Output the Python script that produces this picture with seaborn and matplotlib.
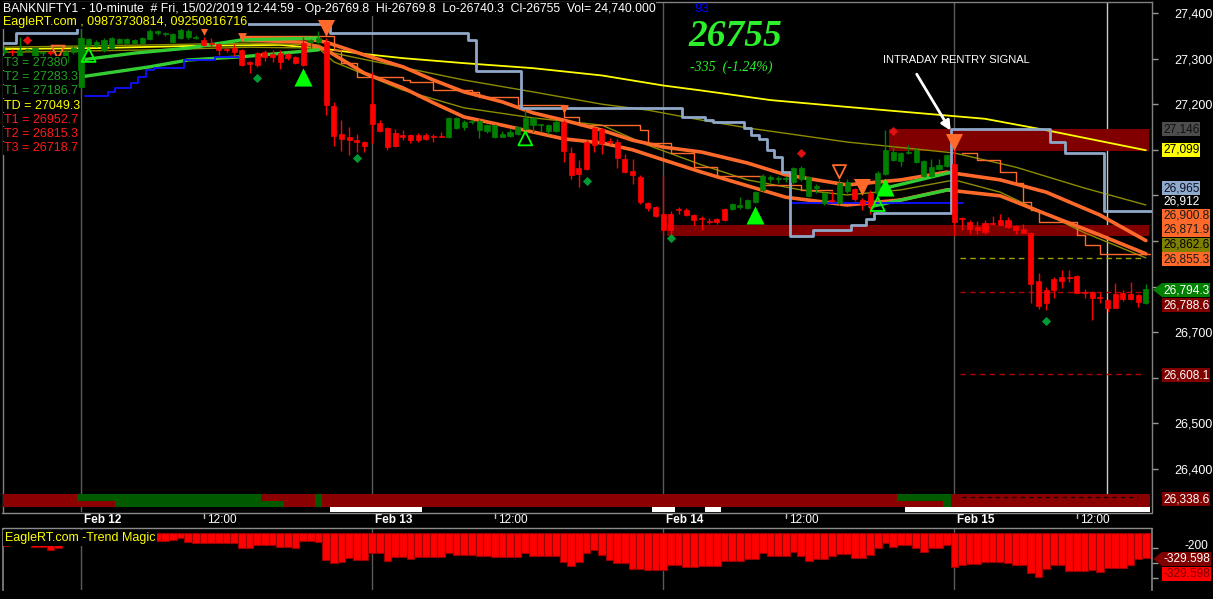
import numpy as np
import pandas as pd
import matplotlib
matplotlib.use("Agg")
import matplotlib.pyplot as plt
import seaborn as sns
from matplotlib.lines import Line2D
from matplotlib.patches import Polygon

# ---------------- data ----------------
opens = [27315,27316,27303,27318,27303,27312,27314,27305,27292,27314,
         27238,27330,27328,27319,27323,27334,27334,27335,27334,27343,
         27356,27353,27337,27345,27347,27345,27341,27335,27332,27322,
         27323,27319,27292,27312,27314,27309,27312,27310,27303,27334,
         27337,27336,27336,27196,27135,27127,27122,27117,27200,27159,
         27148,27137,27133,27133,27133,27133,27130,27129,27128,27148,
         27151,27160,27143,27142,27128,27128,27131,27135,27145,27155,
         27154,27142,27142,27162,27093,27060,27118,27148,27146,27120,
         27118,27080,27054,27041,26984,26975,26960,26960,26970,26968,
         26957,26950,26944,26948,26970,26970,26974,26972,26986,27011,
         27035,27036,27036,27030,27035,26999,27017,26983,26990,26983,
         27010,27014,26990,27005,27005,27048,27078,27076,27093,27074,
         27043,27043,27058,27065,27069,26951,26941,26930,26940,26938,
         26945,26946,26932,26926,26918,26812,26792,26817,26822,26820,
         26823,26788,26788,26777,26770,26784,26786,26784,26781,26764]
highs = [27325,27320,27347,27324,27326,27315,27318,27310,27318,27328,
         27363,27346,27340,27346,27347,27346,27345,27343,27348,27365,
         27363,27359,27356,27366,27364,27352,27348,27345,27335,27326,
         27332,27322,27294,27314,27318,27318,27318,27313,27306,27347,
         27342,27360,27345,27205,27165,27150,27135,27120,27271,27165,
         27150,27145,27143,27135,27136,27136,27134,27139,27172,27173,
         27166,27165,27168,27157,27157,27142,27145,27152,27187,27172,
         27157,27157,27165,27165,27107,27078,27122,27151,27148,27126,
         27124,27090,27080,27044,26986,26977,27045,26965,26975,26972,
         26960,26955,26950,26950,26972,26984,26997,26993,27010,27047,
         27045,27043,27043,27063,27064,27043,27025,27008,27010,27035,
         27037,27017,26995,27012,27054,27143,27110,27095,27110,27103,
         27078,27080,27080,27090,27107,26953,26945,26943,26945,26955,
         26960,26953,26935,26937,26920,26830,26800,26821,26836,26836,
         26825,26795,26790,26788,26772,26808,26792,26810,26783,26805]
lows = [27310,27305,27300,27314,27300,27305,27308,27298,27285,27310,
        27236,27327,27325,27314,27320,27331,27330,27332,27331,27340,
        27352,27350,27334,27342,27344,27342,27327,27325,27307,27314,
        27305,27284,27268,27282,27295,27293,27278,27298,27288,27284,
        27323,27334,27176,27108,27097,27089,27095,27095,27114,27140,
        27100,27106,27122,27115,27116,27122,27118,27127,27126,27146,
        27144,27157,27125,27137,27126,27127,27129,27133,27143,27140,
        27140,27135,27140,27074,27035,27018,27055,27095,27090,27112,
        27060,27050,27025,26982,26965,26952,26911,26905,26960,26955,
        26935,26925,26937,26938,26944,26968,26970,26970,26983,27008,
        27030,27027,27030,27024,27032,26996,27005,26980,26985,26980,
        27005,26988,26968,26960,27002,27045,27075,27065,27090,27072,
        27040,27040,27055,27062,26913,26925,26916,26915,26915,26936,
        26934,26928,26915,26917,26763,26750,26748,26775,26797,26810,
        26785,26775,26727,26764,26744,26752,26768,26770,26755,26762]
closes = [27318,27314,27319,27320,27323,27313,27312,27302,27314,27323,
          27345,27343,27336,27341,27345,27343,27343,27341,27345,27360,
          27360,27357,27354,27363,27361,27348,27330,27333,27319,27318,
          27314,27286,27289,27286,27303,27303,27292,27301,27290,27286,
          27340,27345,27198,27130,27124,27122,27116,27108,27157,27142,
          27106,27108,27129,27122,27122,27124,27127,27128,27170,27170,
          27162,27162,27164,27154,27154,27134,27140,27150,27169,27169,
          27155,27155,27162,27098,27045,27048,27058,27110,27115,27117,
          27083,27052,27044,26986,26973,26955,26925,26925,26968,26957,
          26946,26948,26942,26941,26945,26981,26978,26990,27008,27043,
          27041,27038,27039,27060,27060,27040,27020,27005,26988,27028,
          27030,26992,26979,26977,27050,27100,27096,27093,27095,27100,
          27075,27062,27066,27088,26942,26948,26926,26924,26920,26937,
          26936,26930,26924,26918,26806,26757,26765,26793,26813,26818,
          26787,26786,26775,26774,26754,26754,26773,26772,26766,26794.3]

trend_magic = [-170,-160,-140,-140,-185,-185,-225,-199,-120,-110,
               -60,-80,-90,-100,-100,-110,-110,-120,-110,-100,
               -106,-106,-93,-66,-119,-132,-132,-132,-132,-132,
               -132,-199,-199,-159,-159,-159,-185,-185,-199,-106,
               -106,-119,-358,-397,-384,-331,-358,-358,-265,-265,
               -371,-318,-318,-344,-318,-318,-318,-318,-265,-291,
               -291,-291,-305,-305,-318,-318,-318,-318,-265,-305,
               -305,-305,-305,-384,-437,-384,-265,-225,-291,-358,
               -397,-397,-477,-477,-490,-490,-490,-424,-424,-450,
               -450,-437,-437,-437,-371,-371,-371,-344,-344,-265,
               -305,-305,-305,-252,-305,-371,-344,-344,-305,-278,
               -278,-331,-331,-291,-199,-132,-185,-159,-159,-199,
               -252,-199,-199,-159,-450,-424,-411,-411,-384,-384,
               -384,-397,-424,-424,-530,-583,-477,-424,-424,-503,
               -503,-503,-490,-517,-464,-464,-464,-424,-344,-329.598]

# indicator lines (bar index, price)
yellow_idx = [0,12,25,36,42,47,52,60,69,78,86,91,100,110,119,128,136,149]
yellow_val = [27321,27323,27328,27330,27321,27310,27301,27290,27279,27263,27241,27230,27209,27194,27181,27168,27143,27099]
olive1_idx = [0,19,32,41,43,60,69,78,84,91,97,110,124,132,141,149]
olive1_val = [27325,27330,27334,27330,27312,27253,27227,27200,27187,27165,27148,27117,27093,27062,27016,26979]
olive2_idx = [0,19,32,41,43,52,60,69,78,84,91,97,104,110,117,124,130,134,141,149]
olive2_val = [27314,27319,27325,27323,27293,27231,27192,27170,27154,27110,27067,27034,27012,27001,27012,27034,27007,26975,26918,26863]
ma_idx = [31,39,42,47,52,56,60,65,69,73,78,82,86,91,97,102,110,117,123,130,136,143,149]
ma_fast = [27345,27345,27336,27308,27282,27253,27227,27205,27181,27165,27143,27121,27106,27095,27071,27045,27023,27034,27051,27034,27007,26957,26901]
ma_slow = [27341,27336,27319,27268,27236,27203,27172,27154,27139,27124,27115,27100,27078,27051,27021,26996,26979,26990,27012,26999,26959,26913,26872]
trail1_idx = [31,43,44,46,52,53,56,61,62,67,73,75,83,84,87,90,93,99,104,108]
trail1_val = [27350,27319,27290,27260,27253,27249,27231,27227,27216,27198,27172,27154,27143,27115,27093,27062,27043,27023,27012,27012]
trail2_idx = [125,127,130,132,133,134,135,140,141,143,149.6]
trail2_val = [27092,27078,27052,27027,26986,26968,26942,26913,26891,26872,26872]
stop_idx = [-0.2,1.5,9.5,42.5,60.5,61.5,67.5,88.5,91.5,92.5,96.5,97.5,98.5,99.5,100.5,101.5,102.5,105.5,110.5,112.5,113.5,123.5,136.5,138.5,143.5,149.8]
stop_val = [27334,27356,27376,27357,27341,27273,27192,27173,27165,27162,27147,27132,27123,27100,27084,27052,26911,26924,26935,26948,26962,27145,27118,27092,26965,26965]
g1_up_idx = [10,17,24,31,41];     g1_up_val = [27297,27312,27323,27341,27345]
g1_lo_idx = [10,19,24,31,41];     g1_lo_val = [27260,27282,27297,27304,27319]
b1_idx = [10.5,13.5,14.5,16.5,17.5,18.5,19.5,23.5,27.5,31]
b1_val = [27218,27227,27236,27246,27260,27275,27279,27297,27304,27304]
g2_up_idx = [114,123.4];  g2_up_val = [27012,27050]
g2_lo_idx = [113,123.4];  g2_lo_val = [26975,27013]
b2_idx = [102.6,125.1];   b2_val = [26984,26984]

zone_start = [116, 87]
zone_top = [27146, 26935]
zone_bot = [27097, 26911]
levels = [26862.6, 26788.6, 26608.1]

# signal markers (bar index, price)
sell_big = ([42,112,124], [27367,27019,27116])
sell_hollow = ([7,109], [27314,27052])
sell_small = ([73,31,26], [27189,27347,27361])
buy_big = ([39,98,115], [27260,26957,27019])
buy_hollow = ([11,68,114], [27308,27125,26981])
dots = ([33,46,76,87,136], [27258,27083,27032,26907,26725])
diamonds = ([3,104,116], [27341,27092,27142])

# state strip (runs of bars)
top_runs = [(0,9,'r'),(10,33,'g'),(34,40,'r'),(41,41,'g'),(42,116,'r'),(117,123,'g'),(124,149,'r')]
bot_runs = [(0,14,'r'),(15,36,'g'),(37,40,'r'),(41,41,'g'),(42,122,'r'),(123,123,'g'),(124,149,'r')]
white_runs = [(43,54),(85,87),(92,93),(118,149)]

day_starts = [10, 48, 86, 124]
day_names = ["Feb 12", "Feb 13", "Feb 14", "Feb 15"]
noon_idx = [26, 64, 102, 140]

price_ticks = [26400, 26500, 26600, 26700, 26800, 26900, 27000, 27100, 27200, 27300, 27400]
label_vals = [27146, 27099, 26965, 26912, 26900.8, 26871.9, 26862.6, 26855.3, 26794.3, 26788.6, 26608.1, 26338.6]
legend_txt = ["T3 = 27380", "T2 = 27283.3", "T1 = 27186.7", "TD = 27049.3", "T1 = 26952.7", "T2 = 26815.3", "T3 = 26718.7"]

# ---------------- style ----------------
W, H = 1213, 599
sns.set_theme(style="dark", rc={"axes.facecolor": "black", "figure.facecolor": "black",
                                "savefig.facecolor": "black", "axes.edgecolor": "#808080",
                                "axes.grid": False})
plt.rcParams['font.family'] = ['Liberation Sans', 'DejaVu Sans']

fig = plt.figure(figsize=(W / 100, H / 100), dpi=100, facecolor='black')
def fx(px): return px / W
def fy(py): return 1 - py / H

ax = fig.add_axes([fx(3), fy(512), fx(1152) - fx(3), fy(2) - fy(512)])
axl = fig.add_axes([fx(3), fy(590), fx(1152) - fx(3), fy(529) - fy(590)])
XL = (-0.18, 149.8)
YL = (26305.7, 27424.1)

GREEN_C = '#008000'
RED_C = '#ff0000'
ORANGE = '#ff6a2a'

# bands and grid
for s, t, b in zip(zone_start, zone_top, zone_bot):
    ax.fill_between([s - 0.5, 149.4], [b, b], [t, t], color='#800000', lw=0, zorder=1)
for d in day_starts:
    ax.axvline(d, color='#5a5a5a', lw=1, zorder=0.5)
    axl.axvline(d, color='#5a5a5a', lw=1, zorder=0.5)
ax.axvline(143.9, color='#c8c8c8', lw=1, zorder=0.6)

def line(xs, ys, color, lw, z, ds='default'):
    sns.lineplot(x=xs, y=ys, ax=ax, color=color, lw=lw, zorder=z, estimator=None,
                 sort=False, drawstyle=ds, legend=False)

line(yellow_idx, yellow_val, '#ffff00', 1.3, 2)
line(olive1_idx, olive1_val, '#8c8c00', 1.0, 2)
line(olive2_idx, olive2_val, '#8c8c00', 1.0, 2)
line(trail1_idx, trail1_val, ORANGE, 1.0, 2, 'steps-post')
line(trail2_idx, trail2_val, ORANGE, 1.0, 2, 'steps-post')
line(ma_idx, ma_fast, ORANGE, 2.6, 3)
line(ma_idx, ma_slow, ORANGE, 2.6, 3)
line(stop_idx, stop_val, '#8fa8c8', 2.0, 3.5, 'steps-post')
line(g1_up_idx, g1_up_val, '#33cc33', 2.4, 3)
line(g1_lo_idx, g1_lo_val, '#33cc33', 2.4, 3)
line(b1_idx, b1_val, '#1010ff', 1.3, 3, 'steps-post')
line(g2_up_idx, g2_up_val, '#33cc33', 2.4, 3)
line(g2_lo_idx, g2_lo_val, '#33cc33', 2.4, 3)
line(b2_idx, b2_val, '#1010ff', 1.3, 3)

ax.hlines(levels[0], 124.7, 148.6, colors='#a0a000', linestyles=(0, (4, 3)), lw=1, zorder=2)
ax.hlines(levels[1:], 124.7, 148.6, colors='#b00000', linestyles=(0, (4, 3)), lw=1, zorder=2)

# candles
df = pd.DataFrame({'o': opens, 'h': highs, 'l': lows, 'c': closes})
df['i'] = np.arange(len(df))
col = np.where(df.c >= df.o, GREEN_C, RED_C)
ax.vlines(df.i, df.l, df.h, colors=col, lw=1, zorder=5)
lo = np.minimum(df.o, df.c)
hgt = np.maximum(np.abs(df.c - df.o), 2.2)
ax.bar(df.i, hgt, bottom=lo, width=0.66, color=col, edgecolor=col, lw=0.5, zorder=6)

# markers
ax.scatter(*sell_big, marker='v', s=150, color=ORANGE, zorder=8, lw=0)
ax.scatter(*sell_hollow, marker='v', s=90, facecolor='none', edgecolor=ORANGE, lw=1.3, zorder=8)
ax.scatter(*sell_small, marker='v', s=40, color=ORANGE, zorder=8, lw=0)
ax.scatter(*buy_big, marker='^', s=170, color='#00ff00', zorder=8, lw=0)
ax.scatter(*buy_hollow, marker='^', s=100, facecolor='none', edgecolor='#00ff00', lw=1.3, zorder=8)
ax.scatter(*dots, marker='D', s=22, color='#009933', zorder=8, lw=0)
ax.scatter(*diamonds, marker='D', s=22, color='#e01010', zorder=8, lw=0)

# state strip at the bottom of the price pane
fr = lambda py: (512 - py) / 510
cmap = {'r': '#8b0000', 'g': '#005a00'}
for a, b, c in top_runs:
    ax.axvspan(a - 0.5, b + 0.5, fr(494), fr(500.5), color=cmap[c], lw=0, zorder=9)
for a, b, c in bot_runs:
    ax.axvspan(a - 0.5, b + 0.5, fr(500.5), fr(507), color=cmap[c], lw=0, zorder=9)
for a, b in white_runs:
    ax.axvspan(a - 0.5, b + 0.5, 0, fr(507), color='white', lw=0, zorder=9)
ax.hlines(26338.6, 125, 148, colors='#200000', linestyles=(0, (3, 3)), lw=1, zorder=10)

# arrow annotation
ax.annotate('', xy=(123.7, 27137), xytext=(118.9, 27271),
            arrowprops=dict(arrowstyle='-|>', color='white', lw=2, mutation_scale=14), zorder=11)
ax.text(114.7, 27297, "INTRADAY RENTRY SIGNAL", color='white', fontsize=8, va='center', ha='left', zorder=11)

ax.set_xlim(*XL)
ax.set_ylim(*YL)
ax.yaxis.tick_right()
ax.set_yticks(price_ticks)
# tick labels hidden where value labels cover them in the reference
covered = {26600, 26800, 26900, 27000, 27100}
ax.set_yticklabels(["" if v in covered else f"{v:,}" for v in price_ticks])
ax.tick_params(axis='y', colors='#9a9a9a', labelcolor='white', labelsize=9, length=4, width=1, pad=12, right=True, left=False)
ax.set_xticks([])
ax.set_xlabel(''); ax.set_ylabel('')
for sp in ['left', 'top', 'right']:
    ax.spines[sp].set_color('#808080'); ax.spines[sp].set_linewidth(1)
ax.spines['bottom'].set_visible(False)

# lower pane: trend magic histogram
tm = pd.DataFrame({'i': np.arange(len(trend_magic)), 'v': trend_magic})
sns.barplot(data=tm, x='i', y='v', native_scale=True, orient='x', color=RED_C, saturation=1,
            edgecolor='#9a0000', linewidth=0.8, width=1.0, errorbar=None, ax=axl, zorder=2)
axl.set_xlim(*XL)
axl.set_ylim(-755, 53)
axl.set_xticks([])
axl.yaxis.tick_right()
axl.set_yticks([-200, -400, -600])
axl.set_yticklabels([])
axl.tick_params(axis='y', colors='#9a9a9a', length=4, width=1, right=True, left=False)
axl.set_xlabel(''); axl.set_ylabel('')
for sp in ['left', 'right']:
    axl.spines[sp].set_color('#808080')
axl.spines['top'].set_visible(False)
axl.spines['bottom'].set_visible(False)

# separators and x labels
for yy in (513, 528):
    fig.add_artist(Line2D([fx(2), fx(1152)], [fy(yy), fy(yy)], color='#8a8a8a', lw=1))
for d, n in zip(day_starts, day_names):
    ax.text(d + 0.4, -(520 - 512) / 510, n, transform=ax.get_xaxis_transform(), color='white',
            fontsize=8.5, fontweight='bold', ha='left', va='center', clip_on=False)
for d in noon_idx:
    ax.text(d + 0.4, -(520 - 512) / 510, "12:00", transform=ax.get_xaxis_transform(), color='white',
            fontsize=8.5, ha='left', va='center', clip_on=False)
    ax.plot([d, d], [-(513 - 512) / 510, -(518 - 512) / 510], transform=ax.get_xaxis_transform(),
            color='#c0c0c0', lw=1, clip_on=False)

# header texts
bg = dict(boxstyle='square,pad=0.05', fc='black', ec='none')
fig.text(fx(3), fy(9), "BANKNIFTY1 - 10-minute  # Fri, 15/02/2019 12:44:59 - Op-26769.8  Hi-26769.8  Lo-26740.3  Cl-26755  Vol= 24,740.000",
         color='white', fontsize=8.8, va='center', ha='left', bbox=bg, zorder=20)
fig.text(fx(3), fy(22), "EagleRT.com , 09873730814, 09250816716", color='#ffff00', fontsize=9,
         va='center', ha='left', bbox=bg, zorder=20)
leg_cols = ['#22a022'] * 3 + ['#ffff00'] + ['#ff1a1a'] * 3
for k, (t, c) in enumerate(zip(legend_txt, leg_cols)):
    fig.text(fx(4), fy(63 + k * 14.2), t, color=c, fontsize=9, va='center', ha='left', bbox=bg, zorder=20)
fig.text(fx(694), fy(9), "93", color='#0000ff', fontsize=9.5, va='center', ha='left')
fig.text(fx(688), fy(36), "26755", color='#2cf02c', fontsize=27, fontweight='bold', fontstyle='italic',
         family=['Liberation Serif', 'DejaVu Serif'], va='center', ha='left')
fig.text(fx(690), fy(67), "-335  (-1.24%)", color='#2cf02c', fontsize=10, fontstyle='italic',
         family=['Liberation Serif', 'DejaVu Serif'], va='center', ha='left')
fig.text(fx(5), fy(538), "EagleRT.com -Trend Magic", color='#ffff00', fontsize=9, va='center', ha='left',
         bbox=dict(boxstyle='square,pad=0.15', fc='black', ec='none'), zorder=20)

# right-side value labels
label_rows = [129, 150, 188, 202, 216, 230, 245, 259, 290, 305, 375, 499]
label_face = ['#4d4d4d', '#ffff00', '#8eaacc', None, ORANGE, ORANGE, '#808000', ORANGE, '#008000', '#800000', '#800000', '#800000']
label_text = ['#111111', '#000000', '#111122', '#ffffff', '#1a1a1a', '#1a1a1a', '#000000', '#1a1a1a', '#ffffff', '#ffffff', '#ffffff', '#ffffff']
for v, r, fc, tc in zip(label_vals, label_rows, label_face, label_text):
    s = f"{v:,.1f}" if v % 1 else f"{v:,.0f}"
    kw = {}
    if fc is not None:
        kw['bbox'] = dict(boxstyle='square,pad=0.06', fc=fc, ec='none')
    fig.text(fx(1163), fy(r), s, color=tc, fontsize=8.6, va='center', ha='left', **kw)
fig.add_artist(Polygon([(fx(1153), fy(290)), (fx(1162), fy(283)), (fx(1162), fy(297))],
                       closed=True, transform=fig.transFigure, fc='#008000', ec='none'))

fig.text(fx(1208), fy(546), "-200", color='white', fontsize=8.6, va='center', ha='right')
fig.text(fx(1163), fy(559), f"{trend_magic[-1]:.3f}", color='white', fontsize=8.6, va='center', ha='left',
         bbox=dict(boxstyle='square,pad=0.06', fc='#800000', ec='none'))
fig.add_artist(Polygon([(fx(1153), fy(559)), (fx(1162), fy(552)), (fx(1162), fy(566))],
                       closed=True, transform=fig.transFigure, fc='#800000', ec='none'))
fig.text(fx(1163), fy(574), f"{trend_magic[-1]:.3f}", color='#800000', fontsize=8.6, va='center', ha='left',
         bbox=dict(boxstyle='square,pad=0.06', fc='#ff0000', ec='none'))

fig.savefig('out.png', dpi=100, facecolor='black')
